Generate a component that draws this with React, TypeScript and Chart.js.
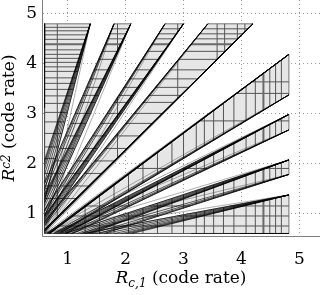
import React, { useEffect, useRef } from 'react';
import { Chart, registerables } from 'chart.js';

Chart.register(...registerables);

// ---- axes ----
const X_TICKS = [1, 2, 3, 4, 5];
const Y_TICKS = [1, 2, 3, 4, 5];
const X_MIN = 0.556;
const X_MAX = 5.357;
const Y_MIN = 0.55;
const Y_MAX = 5.266;
const X_TITLE = ['R', 'c,1', ' (code rate)'];
const Y_TITLE = ['R', 'c2', ' (code rate)'];

// ---- rate regions (wedges fanning out from the lower-left corner) ----
const BASE = 0.6; // lowest code-rate pair (corner of the fan)
const UPPER_TOP = 4.79; // R_c2 at the top of the upper wedges
const LOWER_RIGHT = 4.82; // R_c1 at the right end of the lower wedges
// upper wedges: R_c1 at the top edge (far side / near-diagonal side)
const upperFar = [0.6, 1.8, 2.68, 3.42];
const upperNear = [1.39, 2.09, 3.0, 4.2];
// lower wedges: R_c2 at the right edge (far side / near-diagonal side)
const lowerFar = [0.6, 1.78, 2.67, 3.37];
const lowerNear = [1.37, 2.07, 2.98, 4.18];
// spread of the boundary lines of each wedge (0 = ray through origin, 1 = corner)
const fanFar = [0, 0.08, 0.2, 0.4];
const fanNear = [0, 0.03, 0.07, 0.12, 0.2, 0.3, 0.42, 0.55];
// code-rate levels drawn inside the wedges (along the long axis)
const hatchFine = [4.72, 4.65, 4.57, 4.48, 4.38, 4.27, 4.18, 4.1, 4.02, 3.93, 3.84, 3.71, 3.6, 3.48, 3.35, 3.2, 3.02, 2.83, 2.6, 2.33, 2.1, 1.8, 1.5];
const hatchCoarse = [4.69, 4.59, 4.49, 4.38, 4.24, 4.08, 3.87, 3.69, 3.52, 3.36, 3.22, 3.0, 2.8, 2.55, 2.3, 2.05, 1.8, 1.55, 1.3];
const THICK_LEVEL = 4.38;
// levels along the short axis
const crossUpper = [0.82, 1.86, 2.9, 3.58, 3.71, 3.93, 4.06];
const crossLower = [0.75, 0.95, 1.15, 1.9, 2.85, 3.4, 3.63];

type P = [number, number];
type XY = { x: number; y: number };

const FONT = '"DejaVu Serif", "Liberation Serif", serif';

function clip(poly: P[], k: number, L: number): P[] | null {
  const vals: number[] = [];
  for (let i = 0; i < poly.length; i++) {
    const p = poly[i];
    const q = poly[(i + 1) % poly.length];
    if (p[k] === q[k]) continue;
    const t = (L - p[k]) / (q[k] - p[k]);
    if (t < 0 || t > 1) continue;
    vals.push(p[1 - k] + t * (q[1 - k] - p[1 - k]));
  }
  if (vals.length < 2) return null;
  const lo = Math.min(...vals);
  const hi = Math.max(...vals);
  if (hi - lo < 1e-6) return null;
  return k === 0 ? [[L, lo], [L, hi]] : [[lo, L], [hi, L]];
}

function buildDatasets() {
  const fills: XY[][] = [];
  const thin: XY[] = [];
  const thick: XY[] = [];
  const corner: XY[] = [];
  const fans: XY[] = [];
  const gap = { x: NaN, y: NaN };

  const wedges: { far: number; near: number; top: number; swap: boolean; hatch: number[]; cross: number[] }[] = [];
  upperFar.forEach((f, i) =>
    wedges.push({ far: f, near: upperNear[i], top: UPPER_TOP, swap: false, hatch: i === 0 ? hatchFine : hatchCoarse, cross: crossUpper })
  );
  lowerFar.forEach((f, i) =>
    wedges.push({ far: f, near: lowerNear[i], top: LOWER_RIGHT, swap: true, hatch: hatchCoarse, cross: crossLower })
  );

  wedges.forEach((w) => {
    const map = (p: P): XY => (w.swap ? { x: p[1], y: p[0] } : { x: p[0], y: p[1] });
    const q = (u: number) => (BASE * w.top) / u;
    const at = (u: number, t: number) => q(u) + t * (BASE - q(u));
    const tMax = fanNear[fanNear.length - 1];
    const poly: P[] = [
      [w.far, w.top],
      [w.near, w.top],
      [BASE, at(w.near, tMax)],
      [BASE, at(w.far, 0)],
    ];
    fills.push([...poly, poly[0]].map(map));

    w.hatch.forEach((L) => {
      const s = clip(poly, 1, L);
      if (!s) return;
      const target = L === THICK_LEVEL ? thick : thin;
      target.push(map(s[0]), map(s[1]), gap);
    });
    w.cross.forEach((L) => {
      const s = clip(poly, 0, L);
      if (!s) return;
      thin.push(map(s[0]), map(s[1]), gap);
    });

    fanFar.forEach((t) => fans.push(map([w.far, w.top]), map([BASE, at(w.far, t)]), gap));
    fanNear.forEach((t) => fans.push(map([w.near, w.top]), map([BASE, at(w.near, t)]), gap));
    corner.push(map([w.far, w.top]), map([BASE, BASE]), gap);
    corner.push(map([w.near, w.top]), map([BASE, BASE]), gap);
  });

  const line = (data: XY[], color: string, width: number, order: number) => ({
    data,
    borderColor: color,
    borderWidth: width,
    pointRadius: 0,
    fill: false,
    tension: 0,
    spanGaps: false,
    order,
  });

  return [
    line(fans, 'rgba(0,0,0,0.62)', 1, 1),
    line(corner, 'rgba(60,60,60,0.6)', 0.7, 2),
    line(thick, '#6a6a6a', 2, 3),
    line(thin, '#555555', 1, 4),
    ...fills.map((d) => ({
      data: d,
      borderColor: '#555555',
      borderWidth: 0.8,
      backgroundColor: '#e6e6e6',
      pointRadius: 0,
      fill: 'shape' as const,
      tension: 0,
      order: 5,
    })),
  ];
}

function drawParts(ctx: CanvasRenderingContext2D, parts: string[], sizeBig: number, sizeSmall: number, shift: number) {
  const fonts = [`italic ${sizeBig}px ${FONT}`, `italic ${sizeSmall}px ${FONT}`, `${sizeBig}px ${FONT}`];
  const widths = parts.map((t, i) => {
    ctx.font = fonts[i];
    return ctx.measureText(t).width;
  });
  const total = widths.reduce((a, b) => a + b, 0);
  let x = -total / 2;
  parts.forEach((t, i) => {
    ctx.font = fonts[i];
    ctx.fillText(t, x, i === 1 ? shift : 0);
    x += widths[i];
  });
}

const titlePlugin = {
  id: 'axisTitles',
  afterDraw(chart: any) {
    const ctx = chart.ctx as CanvasRenderingContext2D;
    const area = chart.chartArea;
    ctx.save();
    ctx.fillStyle = '#000';
    ctx.textBaseline = 'alphabetic';
    ctx.textAlign = 'left';
    ctx.save();
    ctx.translate((area.left + area.right) / 2, 283);
    drawParts(ctx, X_TITLE, 17, 12, 4);
    ctx.restore();
    ctx.save();
    ctx.translate(14, (area.top + area.bottom) / 2);
    ctx.rotate(-Math.PI / 2);
    drawParts(ctx, Y_TITLE, 17, 12, -4);
    ctx.restore();
    ctx.restore();
  },
};

export default function App() {
  const ref = useRef<HTMLCanvasElement | null>(null);
  useEffect(() => {
    if (!ref.current) return;
    const chart = new Chart(ref.current, {
      type: 'line',
      data: { datasets: buildDatasets() as any },
      options: {
        animation: false,
        responsive: false,
        devicePixelRatio: 1,
        layout: { padding: 0 },
        events: [],
        plugins: {
          legend: { display: false },
          tooltip: { enabled: false },
          filler: { drawTime: 'beforeDatasetsDraw' },
        } as any,
        scales: {
          x: {
            type: 'linear',
            min: X_MIN,
            max: X_MAX,
            afterBuildTicks: (s: any) => {
              s.ticks = X_TICKS.map((v) => ({ value: v }));
            },
            afterFit: (s: any) => {
              s.height = 59;
              s.paddingLeft = 0;
              s.paddingRight = 0;
            },
            grid: { color: '#9a9a9a', lineWidth: 1, drawTicks: false },
            border: { display: true, color: '#808080', width: 1, dash: [1, 3] },
            ticks: { color: '#000', font: { family: FONT, size: 17 }, padding: 13, maxRotation: 0, autoSkip: false },
          },
          y: {
            type: 'linear',
            min: Y_MIN,
            max: Y_MAX,
            afterBuildTicks: (s: any) => {
              s.ticks = Y_TICKS.map((v) => ({ value: v }));
            },
            afterFit: (s: any) => {
              s.width = 42;
              s.paddingTop = 0;
              s.paddingBottom = 0;
            },
            grid: { color: '#9a9a9a', lineWidth: 1, drawTicks: false },
            border: { display: true, color: '#808080', width: 1, dash: [1, 3] },
            ticks: { color: '#000', font: { family: FONT, size: 17 }, padding: 5, autoSkip: false },
          },
        } as any,
      },
      plugins: [titlePlugin],
    });
    return () => chart.destroy();
  }, []);
  return (
    <div style={{ position: 'fixed', left: 0, top: 0, width: 320, height: 295, background: '#fff' }}>
      <canvas ref={ref} width={320} height={295} style={{ display: 'block' }} />
    </div>
  );
}
